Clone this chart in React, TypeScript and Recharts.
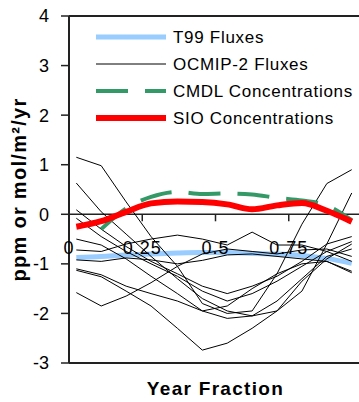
import React from 'react';
import { LineChart, Line, XAxis, YAxis, Legend, ReferenceLine, ReferenceDot } from 'recharts';

// x positions of the monthly values (fraction of the year)
const yearFrac = [0.025, 0.11, 0.195, 0.28, 0.37, 0.455, 0.54, 0.625, 0.71, 0.795, 0.88, 0.965];

const t99 = [-0.87, -0.85, -0.82, -0.8, -0.78, -0.77, -0.77, -0.79, -0.8, -0.83, -0.89, -0.99];
const sio = [-0.25, -0.14, 0.05, 0.22, 0.26, 0.25, 0.2, 0.1, 0.18, 0.23, 0.07, -0.15];
const cmdl = [null, -0.3, 0.12, 0.35, 0.45, 0.41, 0.42, 0.4, 0.33, 0.28, 0.18, -0.12];

// OCMIP-2 model runs
const ocmip = [
  [1.15, 0.98, 0.25, -0.45, -1.05, -1.8, -2.0, -1.95, -1.2, -0.2, 0.62, 0.9],
  [0.63, 0.05, -0.4, -0.85, -1.3, -1.7, -1.95, -2.05, -1.95, -1.55, -0.6, 0.43],
  [0.09, -0.3, -0.65, -0.95, -1.2, -1.45, -1.6, -1.45, -1.25, -0.95, -0.6, -0.45],
  [-0.08, -0.45, -0.75, -1.0, -1.25, -1.55, -1.75, -1.6, -1.35, -1.05, -0.75, -0.55],
  [-0.72, -0.75, -0.6, -0.5, -0.42, -0.5, -0.62, -0.36, -0.62, -0.62, -0.75, -0.95],
  [-0.92, -0.95, -0.88, -0.92, -1.0, -0.93, -0.82, -0.8, -0.85, -0.9, -0.95, -1.18],
  [-1.1, -1.22, -1.45, -1.6, -1.75, -1.95, -2.1, -2.05, -1.75, -1.3, -0.85, -0.7],
  [-1.58, -1.85, -1.65, -1.38, -1.05, -0.8, -0.7, -0.75, -0.8, -0.72, -0.7, -0.85],
  [-1.13, -1.26, -1.55, -1.85, -2.3, -2.74, -2.6, -2.3, -1.95, -1.35, -0.9, -0.6],
  [-0.5, -0.62, -0.9, -1.25, -1.6, -1.95, -1.85, -1.5, -1.2, -1.0, -0.95, -1.15],
];

const yTicks = [-3, -2, -1, 0, 1, 2, 3, 4];
const xTicks = [0, 0.25, 0.5, 0.75];
const xTickLabels = ['0', '0.25', '0.5', '0.75'];
const legendOrder = ['T99 Fluxes', 'OCMIP-2 Fluxes', 'CMDL Concentrations', 'SIO Concentrations'];

const data = yearFrac.map((x, i) => {
  const row: Record<string, number | null> = { x, t99: t99[i], sio: sio[i], cmdl: cmdl[i] };
  ocmip.forEach((run, k) => {
    row[`o${k}`] = run[i];
  });
  return row;
});

const LegendBox = ({ payload }: any) => {
  const items = (payload || [])
    .filter((e: any) => e.type !== 'none')
    .filter((e: any, i: number, arr: any[]) => arr.findIndex((o: any) => o.value === e.value) === i)
    .sort((a: any, b: any) => legendOrder.indexOf(a.value) - legendOrder.indexOf(b.value));
  return (
    <svg width={268} height={110}>
      {items.map((entry: any, i: number) => {
        const p = entry.payload || {};
        const cy = 13 + i * 27;
        return (
          <g key={entry.value}>
            <line
              x1={6}
              x2={76}
              y1={cy}
              y2={cy}
              stroke={entry.color}
              strokeWidth={p.strokeWidth || 1}
              strokeDasharray={p.strokeDasharray}
            />
            <text x={83} y={cy + 6} fontSize={17} letterSpacing={0.7} fill="#000">
              {entry.value}
            </text>
          </g>
        );
      })}
    </svg>
  );
};

const XTickMark = (props: any) => (
  <line x1={props.cx} x2={props.cx} y1={props.cy} y2={props.cy + 7} stroke="#222" strokeWidth={1.5} />
);

export default function App() {
  return (
    <div
      style={{
        position: 'absolute',
        left: 0,
        top: 0,
        width: 359,
        height: 402,
        overflow: 'hidden',
        background: '#fff',
        fontFamily: '"Liberation Sans", Arial, sans-serif',
      }}
    >
      <LineChart width={380} height={402} data={data} margin={{ top: 16, right: 18, bottom: 39, left: 0 }}>
        <XAxis dataKey="x" type="number" domain={[0, 1]} hide />
        <YAxis
          domain={[-3, 4]}
          ticks={yTicks}
          interval={0}
          width={69}
          tickSize={8}
          tickMargin={12}
          tick={{ fontSize: 18, fill: '#000' }}
          axisLine={{ stroke: '#222', strokeWidth: 2 }}
          tickLine={{ stroke: '#222', strokeWidth: 1.5 }}
          label={{
            value: 'ppm or mol/m²/yr',
            angle: -90,
            position: 'insideLeft',
            offset: 19,
            fontSize: 20,
            fontWeight: 'bold',
            fill: '#000',
            letterSpacing: 1.3,
            style: { textAnchor: 'middle' },
          }}
        />
        <ReferenceLine y={4} stroke="#222" strokeWidth={2} />
        <ReferenceLine
          y={-3}
          stroke="#222"
          strokeWidth={2}
          label={{
            value: 'Year Fraction',
            position: 'bottom',
            offset: 19,
            fontSize: 19,
            fontWeight: 'bold',
            fill: '#000',
            letterSpacing: 1.3,
          }}
        />
        <ReferenceLine y={0} stroke="#222" strokeWidth={1.5} />
        {xTicks.map((t, i) => (
          <ReferenceDot
            key={t}
            x={t}
            y={0}
            r={0}
            shape={XTickMark}
            label={{ value: xTickLabels[i], position: 'bottom', offset: 27, fontSize: 18, fill: '#000', letterSpacing: 1 }}
          />
        ))}
        <Line
          dataKey="t99"
          name="T99 Fluxes"
          type="monotone"
          stroke="#99ccff"
          strokeWidth={5}
          dot={false}
          isAnimationActive={false}
        />
        {ocmip.map((_, k) => (
          <Line
            key={k}
            dataKey={`o${k}`}
            name="OCMIP-2 Fluxes"
            type="linear"
            stroke="#000"
            strokeWidth={1}
            dot={false}
            legendType={k === 0 ? 'line' : 'none'}
            isAnimationActive={false}
          />
        ))}
        <Line
          dataKey="cmdl"
          name="CMDL Concentrations"
          type="monotone"
          stroke="#339966"
          strokeWidth={4}
          strokeDasharray="32 17"
          dot={false}
          connectNulls
          isAnimationActive={false}
        />
        <Line
          dataKey="sio"
          name="SIO Concentrations"
          type="monotone"
          stroke="#ff0000"
          strokeWidth={6}
          dot={false}
          isAnimationActive={false}
        />
        <Legend
          layout="horizontal"
          verticalAlign="middle"
          align="center"
          content={<LegendBox />}
          wrapperStyle={{ left: 90, top: 24, width: 268, height: 110 }}
        />
      </LineChart>
    </div>
  );
}
